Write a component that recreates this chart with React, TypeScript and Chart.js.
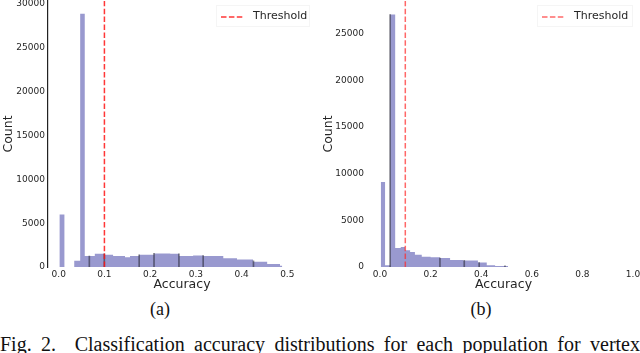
import React, { useEffect, useRef } from 'react';
import { Chart, registerables } from 'chart.js';

Chart.register(...registerables);

const THRESHOLD = 0.1;

// Panel (a): histogram bin edges (accuracy) and counts per bin
const binEdgesA = [0.0015, 0.0125, 0.034, 0.047, 0.057, 0.079, 0.101, 0.119, 0.145, 0.156, 0.176, 0.209, 0.244, 0.263, 0.294, 0.316, 0.36, 0.39, 0.425, 0.456, 0.484, 0.489];
const countsA = [6000, 0, 700, 28900, 1250, 1500, 1400, 1250, 1100, 1250, 1400, 1550, 1500, 1250, 1300, 1250, 1000, 850, 600, 350, 150];
const edgeMarkXA = [0.067, 0.0998, 0.176, 0.2085, 0.263, 0.316, 0.426];
const edgeMarkYA = [1250, 1500, 1400, 1550, 1500, 1300, 700];
const xTicksA = [0, 0.1, 0.2, 0.3, 0.4, 0.5];
const yTicksA = [0, 5000, 10000, 15000, 20000, 25000, 30000];

// Panel (b)
const binEdgesB = [0.003, 0.02, 0.04, 0.06, 0.082, 0.099, 0.119, 0.138, 0.165, 0.2, 0.237, 0.277, 0.328, 0.387, 0.422, 0.455, 0.506];
const countsB = [9100, 200, 27050, 2030, 2140, 1790, 1600, 1320, 1100, 1040, 960, 760, 700, 470, 200, 120];
const edgeMarkXB = [0.04, 0.237, 0.333, 0.392, 0.494];
const edgeMarkYB = [27050, 960, 700, 470, 120];
const xTicksB = [0, 0.2, 0.4, 0.6, 0.8, 1.0];
const yTicksB = [0, 5000, 10000, 15000, 20000, 25000];

const FILL = 'rgb(153,153,207)';
const FONT = "'DejaVu Sans', sans-serif";
const TEXT = '#262626';

type PanelSpec = {
  edges: number[];
  counts: number[];
  markX: number[];
  markY: number[];
  xTicks: number[];
  yTicks: number[];
  xMin: number;
  xMax: number;
  yMax: number;
  yAxisWidth: number;
  padRight: number;
  showSpine: boolean;
  thresholdColor: string;
};

function buildConfig(p: PanelSpec): any {
  const hist = p.edges.map((e, i) => ({ x: e, y: i < p.counts.length ? p.counts[i] : 0 }));
  return {
    type: 'line',
    data: {
      datasets: [
        {
          label: 'Threshold',
          data: [{ x: THRESHOLD, y: 0 }, { x: THRESHOLD, y: p.yMax }],
          borderColor: p.thresholdColor,
          borderWidth: 1.5,
          borderDash: [5.5, 2.4],
          pointRadius: 0,
          fill: false,
          order: 0,
        },
        {
          type: 'bar',
          label: 'edges',
          data: p.markX.map((x, i) => ({ x, y: p.markY[i] })),
          backgroundColor: 'rgba(45,45,60,0.6)',
          barThickness: 1,
          order: 1,
        },
        {
          label: 'Accuracy',
          data: hist,
          stepped: 'before',
          fill: 'origin',
          backgroundColor: FILL,
          borderColor: 'rgba(0,0,0,0)',
          borderWidth: 0,
          pointRadius: 0,
          order: 2,
        },
      ],
    },
    options: {
      animation: false,
      responsive: false,
      layout: { autoPadding: false, padding: { top: 1, left: 0, right: p.padRight, bottom: 0 } },
      plugins: { legend: { display: false }, tooltip: { enabled: false } },
      scales: {
        x: {
          type: 'linear',
          min: p.xMin,
          max: p.xMax,
          offset: false,
          grid: { display: false, drawTicks: false },
          border: { display: false },
          afterBuildTicks: (axis: any) => {
            axis.ticks = p.xTicks.map((v) => ({ value: v }));
          },
          afterFit: (axis: any) => {
            axis.height = 25;
            axis.paddingLeft = 0;
            axis.paddingRight = 0;
          },
          ticks: {
            padding: 2,
            maxRotation: 0,
            autoSkip: false,
            font: { family: FONT, size: 9 },
            color: TEXT,
            callback: (v: any) => Number(v).toFixed(1),
          },
          title: {
            display: true,
            text: 'Accuracy',
            font: { family: FONT, size: 12.5 },
            color: TEXT,
            padding: { top: 0, bottom: 0 },
          },
        },
        y: {
          type: 'linear',
          min: 0,
          max: p.yMax,
          grid: { display: false, drawTicks: false },
          border: { display: p.showSpine, color: '#222', width: 1.2 },
          afterBuildTicks: (axis: any) => {
            axis.ticks = p.yTicks.map((v) => ({ value: v }));
          },
          afterFit: (axis: any) => {
            axis.width = p.yAxisWidth;
            axis.paddingTop = 0;
            axis.paddingBottom = 0;
          },
          ticks: {
            padding: 3,
            autoSkip: false,
            font: { family: FONT, size: 9 },
            color: TEXT,
            callback: (v: any) => String(v),
          },
          title: {
            display: true,
            text: 'Count',
            font: { family: FONT, size: 12.5 },
            color: TEXT,
            padding: { top: 1, bottom: 0 },
          },
        },
      },
    },
  };
}

function Panel({ spec, left }: { spec: PanelSpec; left: number }) {
  const ref = useRef<HTMLCanvasElement | null>(null);
  useEffect(() => {
    if (!ref.current) return;
    const chart = new Chart(ref.current, buildConfig(spec));
    return () => chart.destroy();
  }, [spec]);
  return (
    <canvas
      ref={ref}
      width={320}
      height={292}
      style={{ position: 'absolute', left, top: 0, width: 320, height: 292, display: 'block' }}
    />
  );
}

function Legend({ left, width, color }: { left: number; width: number; color: string }) {
  return (
    <div
      style={{
        position: 'absolute',
        left,
        top: 5,
        width,
        height: 22,
        border: '1px solid rgba(0,0,0,0.04)',
        boxSizing: 'border-box',
        background: 'rgba(255,255,255,0.8)',
      }}
    >
      <svg width={24} height={4} style={{ position: 'absolute', left: 4, top: 9 }}>
        <line x1={0} y1={2} x2={22} y2={2} stroke={color} strokeWidth={1.5} strokeDasharray="5.5 2.4" />
      </svg>
      <span
        style={{
          position: 'absolute',
          left: 36,
          top: 3,
          font: `11px ${FONT}`,
          color: TEXT,
          lineHeight: '14px',
          whiteSpace: 'nowrap',
        }}
      >
        Threshold
      </span>
    </div>
  );
}

const specA: PanelSpec = {
  edges: binEdgesA,
  counts: countsA,
  markX: edgeMarkXA,
  markY: edgeMarkYA,
  xTicks: xTicksA,
  yTicks: yTicksA,
  xMin: -0.0234,
  xMax: 0.5628,
  yMax: 30350,
  yAxisWidth: 48,
  padRight: 4,
  showSpine: true,
  thresholdColor: 'rgba(255,20,20,0.85)',
};

const specB: PanelSpec = {
  edges: binEdgesB,
  counts: countsB,
  markX: edgeMarkXB,
  markY: edgeMarkYB,
  xTicks: xTicksB,
  yTicks: yTicksB,
  xMin: -0.0514,
  xMax: 1.0277,
  yMax: 28500,
  yAxisWidth: 47,
  padRight: 0,
  showSpine: false,
  thresholdColor: 'rgba(255,40,40,0.7)',
};

const serifFont = "'Liberation Serif', 'Times New Roman', serif";

export default function App() {
  return (
    <div
      style={{
        position: 'absolute',
        left: 0,
        top: 0,
        width: 640,
        height: 353,
        overflow: 'hidden',
        background: '#fff',
      }}
    >
      <Panel spec={specA} left={0} />
      <Panel spec={specB} left={320} />
      <Legend left={216} width={94} color="rgba(255,20,20,0.85)" />
      <Legend left={537} width={96} color="rgba(255,40,40,0.7)" />
      <div
        style={{
          position: 'absolute',
          left: 140,
          top: 299,
          width: 40,
          textAlign: 'center',
          font: `18px ${serifFont}`,
          color: '#111',
        }}
      >
        (a)
      </div>
      <div
        style={{
          position: 'absolute',
          left: 461,
          top: 299,
          width: 40,
          textAlign: 'center',
          font: `18px ${serifFont}`,
          color: '#111',
        }}
      >
        (b)
      </div>
      <div
        style={{
          position: 'absolute',
          left: 0,
          top: 334,
          width: 640,
          font: `20px ${serifFont}`,
          color: '#111',
          textAlign: 'justify',
          textAlignLast: 'justify',
          whiteSpace: 'nowrap',
          lineHeight: '20px',
        } as any}
      >
        Fig. 2.&nbsp;&nbsp;Classification accuracy distributions for each population for vertex
      </div>
    </div>
  );
}
